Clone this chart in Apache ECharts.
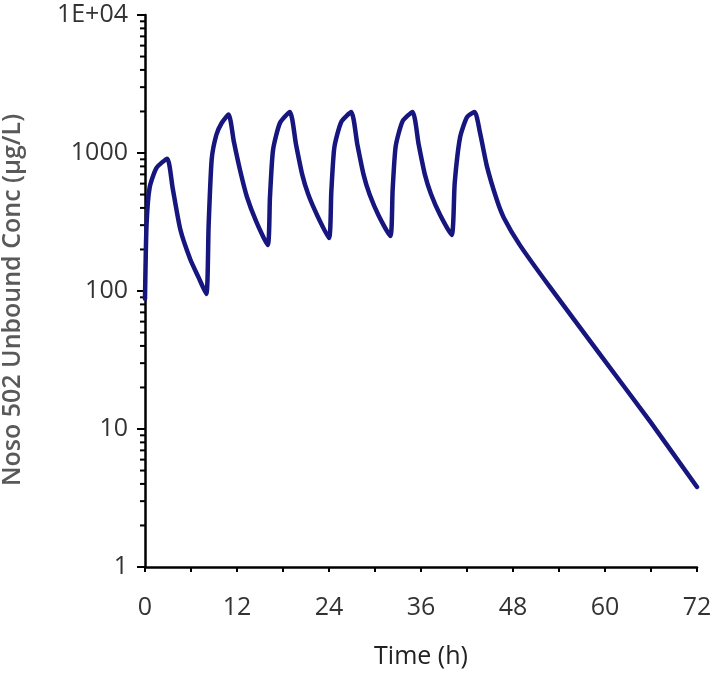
<!DOCTYPE html>
<html>
<head>
<meta charset="utf-8">
<script src="https://cdn.jsdelivr.net/npm/echarts@6/dist/echarts.min.js"></script>
<style>
  html, body { margin: 0; padding: 0; background: #fff; }
  #chart { width: 717px; height: 673px; }
</style>
</head>
<body>
<div id="chart"></div>
<script>
// simulated unbound concentration
const timeH = [
  0, 0.2, 0.6, 1.5, 2.9, 3.6, 4.6, 5.9, 7.0, 8.0,
  8.3, 8.7, 9.3, 10.0, 10.9, 11.6, 12.4, 13.3, 14.5, 16.0,
  16.3, 16.7, 17.6, 18.9, 19.7, 20.5, 21.3, 22.5, 24.0,
  24.3, 24.7, 25.6, 26.9, 27.7, 28.5, 29.3, 30.5, 32.0,
  32.3, 32.7, 33.6, 34.9, 35.7, 36.5, 37.3, 38.5, 40.0,
  40.4, 41.1, 42.0, 43.0, 43.7, 44.6, 45.9, 46.8, 48.9,
  52.8, 59.3, 65.9, 72.0
];
const concUgL = [
  88, 300, 560, 780, 910, 560, 280, 170, 125, 95,
  300, 900, 1350, 1650, 1900, 1200, 750, 480, 320, 215,
  480, 1050, 1650, 1980, 1150, 700, 500, 350, 242,
  520, 1100, 1680, 1980, 1150, 700, 500, 350, 250,
  540, 1120, 1700, 1985, 1150, 700, 505, 355, 255,
  610, 1300, 1820, 1985, 1400, 800, 456, 340, 215,
  107, 35, 11.3, 3.8
];
const xTicks = [0, 12, 24, 36, 48, 60, 72];
const yMinorTicks = [];
[1, 10, 100, 1000].forEach(function (d) {
  for (let k = 2; k <= 9; k++) yMinorTicks.push(k * d);
});

const seriesData = timeH.map(function (t, i) { return [t, concUgL[i]]; });

const chart = echarts.init(document.getElementById('chart'));
const labelFont = '"Open Sans", "DejaVu Sans", sans-serif';

chart.setOption({
  animation: false,
  backgroundColor: '#fff',
  grid: {
    left: 145, right: 20, top: 15, bottom: 106,
    containLabel: false, outerBoundsMode: 'none'
  },
  xAxis: {
    type: 'value',
    min: 0,
    max: 72,
    interval: 12,
    name: 'Time (h)',
    nameLocation: 'middle',
    nameGap: 77,
    nameTextStyle: { fontSize: 25, color: '#222', fontFamily: labelFont },
    axisLine: { lineStyle: { color: '#000', width: 2.5 } },
    axisTick: { show: true, length: 5, lineStyle: { color: '#000', width: 2 } },
    minorTick: { show: true, splitNumber: 2, length: 5, lineStyle: { color: '#000', width: 2 } },
    splitLine: { show: false },
    axisLabel: {
      fontSize: 25, color: '#333', fontFamily: labelFont, margin: 28,
      formatter: function (v) { return xTicks.indexOf(v) >= 0 ? String(v) : ''; }
    }
  },
  yAxis: {
    type: 'log',
    logBase: 10,
    min: 1,
    max: 10000,
    name: 'Noso 502 Unbound Conc (µg/L)',
    nameLocation: 'middle',
    nameGap: 120,
    nameTextStyle: {
      fontSize: 25, color: '#595959', fontWeight: 600, fontFamily: labelFont,
      padding: [0, 18, 0, 0]
    },
    axisLine: { show: true, lineStyle: { color: '#000', width: 2.5 } },
    axisTick: { show: true, length: 8, lineStyle: { color: '#000', width: 2 } },
    splitLine: { show: false },
    axisLabel: {
      fontSize: 25, color: '#333', fontFamily: labelFont, margin: 17,
      formatter: function (v) { return v >= 10000 ? '1E+04' : String(Math.round(v)); }
    }
  },
  series: [
    {
      type: 'custom',
      coordinateSystem: 'cartesian2d',
      silent: true,
      clip: false,
      data: yMinorTicks.map(function (v) { return [0, v]; }),
      renderItem: function (params, api) {
        const p = api.coord([0, api.value(1)]);
        return {
          type: 'line',
          shape: { x1: p[0] - 5, y1: p[1], x2: p[0], y2: p[1] },
          style: { stroke: '#000', lineWidth: 2 }
        };
      }
    },
    {
      type: 'line',
      data: seriesData,
      showSymbol: false,
      smooth: 0.2,
      lineStyle: { color: '#16167e', width: 4.5, join: 'round', cap: 'round' },
      z: 5
    }
  ]
});
</script>
</body>
</html>
